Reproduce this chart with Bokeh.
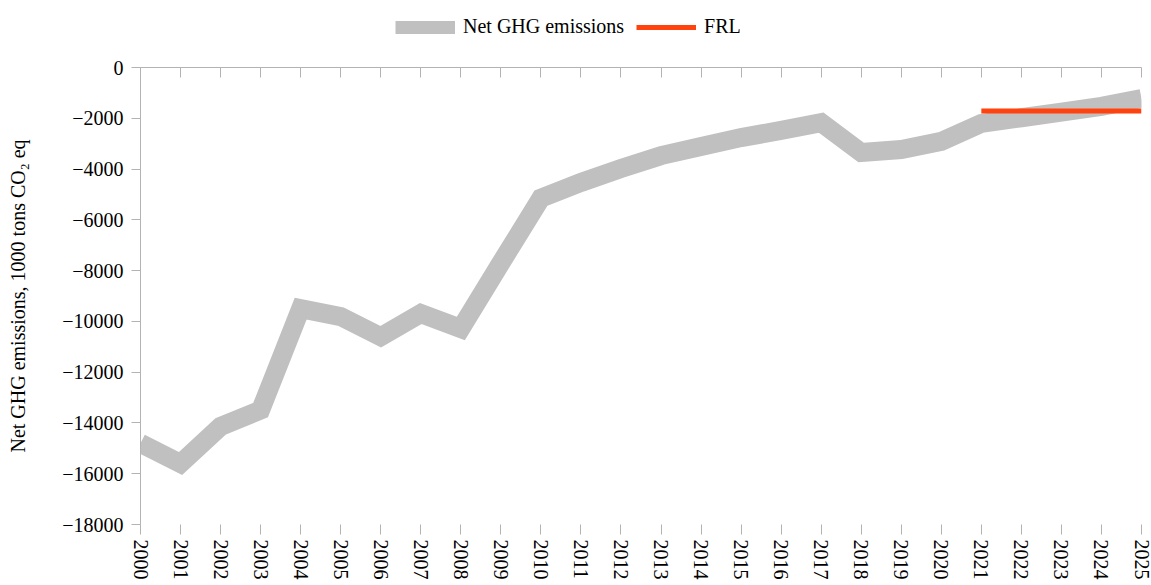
from bokeh.plotting import figure
from bokeh.layouts import column
from bokeh.models import Range1d, LinearAxis, FixedTicker, Legend, LegendItem
from bokeh.embed import file_html
from bokeh.resources import INLINE

years = list(range(2000, 2026))
net_ghg = [-14800, -15600, -14140, -13490, -9500, -9810, -10600, -9690, -10280, -7700,
           -5150, -4530, -3980, -3470, -3110, -2760, -2480, -2170, -3350, -3230,
           -2910, -2200, -1980, -1760, -1530, -1220]
frl_years = [2021, 2025]
frl_values = [-1710, -1710]
y_ticks = list(range(-18000, 1, 2000))

FONT = "Liberation Serif"
GRAY = "#c0c0c0"
RED = "#ff420e"
AX = "#b3b3b3"
FS = "20px"

LEG_H = 45

# ---- legend strip (series drawn out of view; only the legend shows) ----
lf = figure(width=1151, height=LEG_H, output_backend="svg", toolbar_location=None,
            x_range=Range1d(0, 1), y_range=Range1d(0, 1),
            x_axis_location=None, y_axis_location=None,
            min_border_left=0, min_border_right=0, min_border_top=0, min_border_bottom=0)
lf.outline_line_color = None
lf.xgrid.visible = False
lf.ygrid.visible = False
lg_gray = lf.line(years, net_ghg, line_width=13, line_color=GRAY)
lg_red = lf.line(frl_years, frl_values, line_width=5, line_color=RED)
legend = Legend(items=[LegendItem(label="Net GHG emissions", renderers=[lg_gray]),
                       LegendItem(label="FRL", renderers=[lg_red])],
                orientation="horizontal", location=(255, LEG_H - 18 - 20),
                glyph_width=60, glyph_height=20, label_standoff=8, spacing=12,
                padding=0, margin=0, border_line_color=None, background_fill_alpha=0,
                label_text_font=FONT, label_text_font_size=FS, label_text_color="#000000")
lf.add_layout(legend, "center")

# ---- main chart ----
p = figure(width=1151, height=585 - LEG_H, output_backend="svg", toolbar_location=None,
           x_range=Range1d(2000, 2025), y_range=Range1d(-18000, 0),
           x_axis_location=None, y_axis_location=None,
           min_border_left=140, min_border_right=10, min_border_top=67 - LEG_H,
           min_border_bottom=61)
p.outline_line_color = None
p.xgrid.visible = False
p.ygrid.visible = False

xb = LinearAxis(ticker=FixedTicker(ticks=years))
xb.axis_line_color = None
xb.major_tick_line_color = AX
xb.major_tick_out = 10
xb.major_tick_in = 0
xb.minor_tick_line_color = None
xb.major_label_orientation = "vertical"
xb.major_label_text_font = FONT
xb.major_label_text_font_size = FS
xb.major_label_text_color = "#000000"
xb.major_label_standoff = 5
p.add_layout(xb, "below")

xt = LinearAxis(ticker=FixedTicker(ticks=years))
xt.axis_line_color = AX
xt.major_tick_line_color = AX
xt.major_tick_out = 0
xt.major_tick_in = 10
xt.minor_tick_line_color = None
xt.major_label_text_font_size = "0px"
xt.major_label_text_alpha = 0
p.add_layout(xt, "above")

ya = LinearAxis(ticker=FixedTicker(ticks=y_ticks))
ya.axis_line_color = AX
ya.major_tick_line_color = AX
ya.major_tick_out = 9
ya.major_tick_in = 0
ya.minor_tick_line_color = None
ya.major_label_text_font = FONT
ya.major_label_text_font_size = FS
ya.major_label_text_color = "#000000"
ya.major_label_standoff = 8
ya.axis_label = "Net GHG emissions, 1000 tons CO\u2082 eq"
ya.axis_label_text_font = FONT
ya.axis_label_text_font_size = FS
ya.axis_label_text_font_style = "normal"
ya.axis_label_text_color = "#000000"
ya.axis_label_standoff = 30
p.add_layout(ya, "left")

p.line(years, net_ghg, line_width=19, line_color=GRAY, line_join="miter")
p.line(frl_years, frl_values, line_width=5, line_color=RED)

layout = column(lf, p, spacing=0)
open("out.html", "w").write(file_html(layout, INLINE))
